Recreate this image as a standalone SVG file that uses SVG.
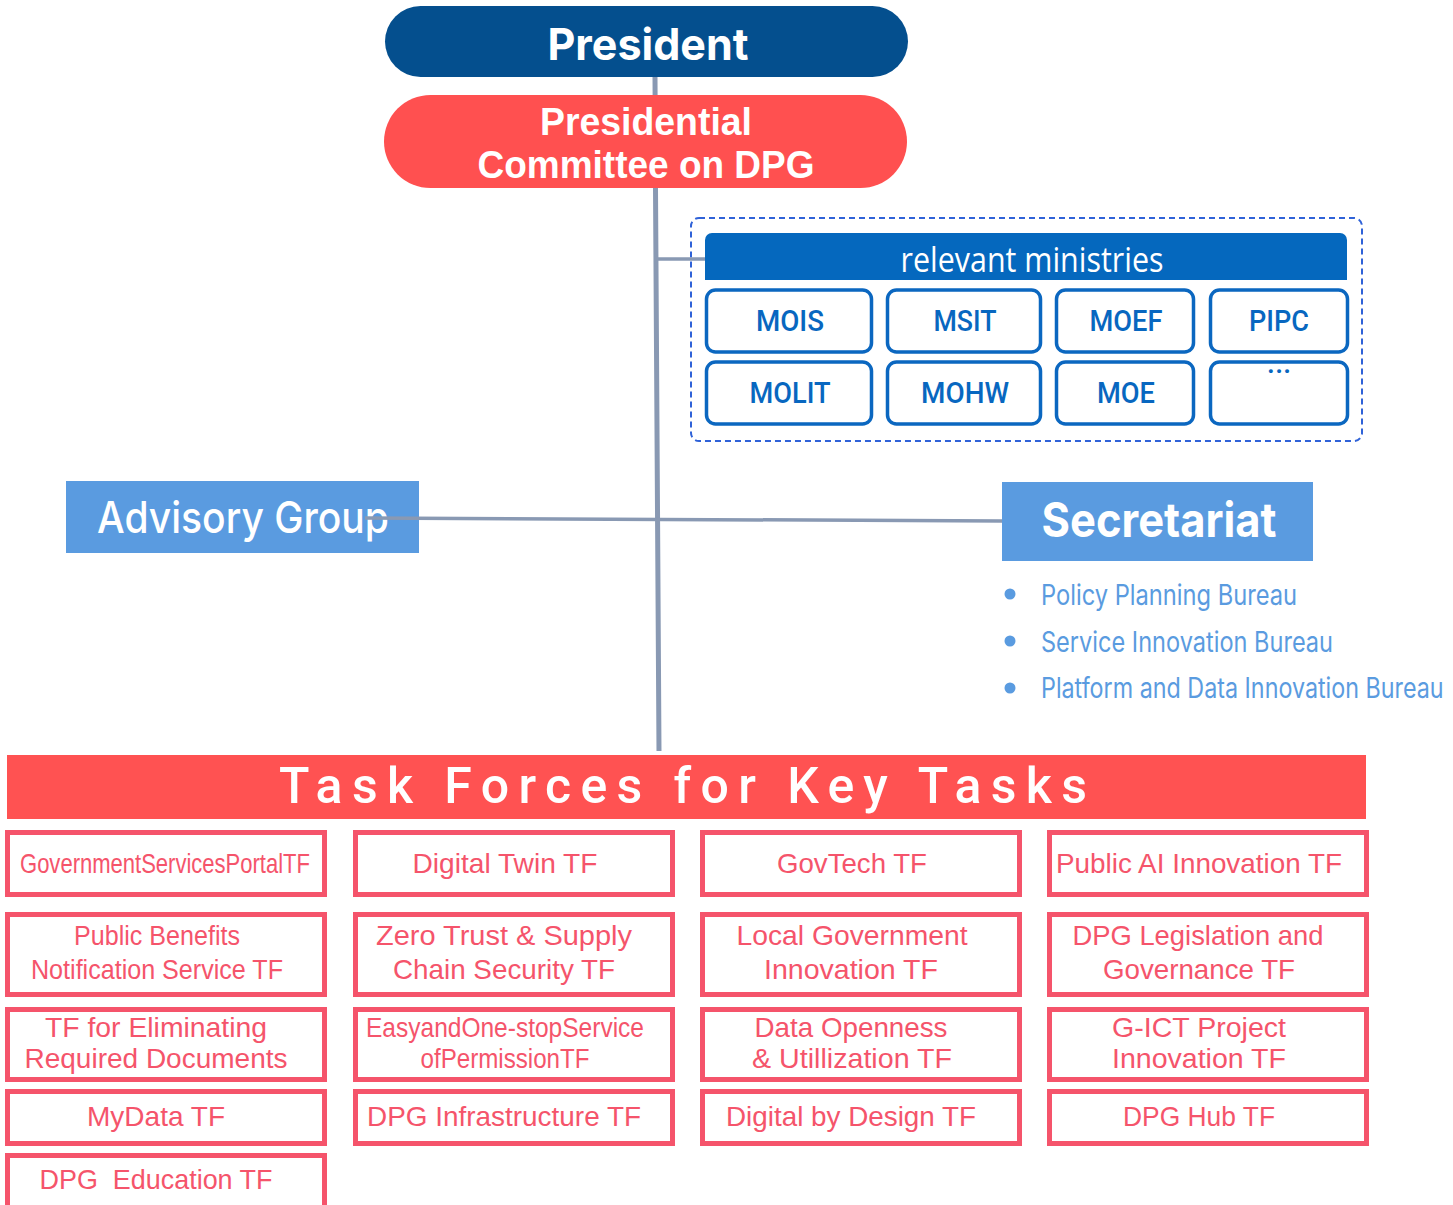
<svg xmlns="http://www.w3.org/2000/svg" width="1453" height="1205" viewBox="0 0 1453 1205">
<style>
.conn{stroke:#8999B3;fill:none;stroke-linecap:butt}
.wt{fill:#fff;text-anchor:middle}
.bold{font-family:Inter,"Noto Sans",sans-serif;font-weight:700}
.cm{font-family:"Liberation Sans",Arial,sans-serif;font-weight:700;font-size:38.5px}
.min rect{fill:#fff;stroke:#0B67C0;stroke-width:3.5}
.min text{fill:#0867C0;font-family:Roboto,"Noto Sans",sans-serif;font-weight:500;font-size:29px;text-anchor:middle}
.tf rect{fill:#fff;stroke:#F5546B;stroke-width:5}
.tf text{fill:#F5546B;font-family:"Liberation Sans","Noto Sans CJK KR",sans-serif;font-size:27.5px;text-anchor:middle}
.bul text{fill:#5A9BE0;font-family:Inter,"Noto Sans",sans-serif;font-size:28px}
.bul circle{fill:#5A9BE0}
</style>
<rect width="1453" height="1205" fill="#fff"/>
<g id="president">
<rect x="385" y="6" width="523" height="71" rx="35.5" fill="#044F8E"/>
<text class="wt bold" x="648" y="60" font-size="44" textLength="201" lengthAdjust="spacingAndGlyphs">President</text>
</g>
<g id="committee">
<rect x="384" y="95" width="523" height="93" rx="46.5" fill="#FF5050"/>
<text class="wt cm" x="646" y="135" textLength="212" lengthAdjust="spacingAndGlyphs">Presidential</text>
<text class="wt cm" x="646" y="178" textLength="337" lengthAdjust="spacingAndGlyphs">Committee on DPG</text>
</g>
<g id="relevant-ministries">
<rect x="691" y="218" width="671" height="223" rx="8" fill="none" stroke="#2F62D8" stroke-width="2" stroke-dasharray="6 4"/>
<path d="M705 240 a7 7 0 0 1 7 -7 H1340 a7 7 0 0 1 7 7 V280 H705 Z" fill="#0568BE"/>
<text class="wt" x="1032" y="272" font-family="'Open Sans','Noto Sans',sans-serif" font-size="34" textLength="263" lengthAdjust="spacingAndGlyphs">relevant ministries</text>
</g>
<g class="min">
<g id="m-mois"><rect x="706.5" y="290" width="165" height="62" rx="9"/><text x="790" y="331" textLength="68" lengthAdjust="spacingAndGlyphs">MOIS</text></g>
<g id="m-msit"><rect x="887.5" y="290" width="153" height="62" rx="9"/><text x="965" y="331" textLength="63" lengthAdjust="spacingAndGlyphs">MSIT</text></g>
<g id="m-moef"><rect x="1056.5" y="290" width="137" height="62" rx="9"/><text x="1126" y="331" textLength="73" lengthAdjust="spacingAndGlyphs">MOEF</text></g>
<g id="m-pipc"><rect x="1210.5" y="290" width="137" height="62" rx="9"/><text x="1279" y="331" textLength="60" lengthAdjust="spacingAndGlyphs">PIPC</text></g>
<g id="m-molit"><rect x="706.5" y="362" width="165" height="62" rx="9"/><text x="790" y="403" textLength="81" lengthAdjust="spacingAndGlyphs">MOLIT</text></g>
<g id="m-mohw"><rect x="887.5" y="362" width="153" height="62" rx="9"/><text x="965" y="403" textLength="88" lengthAdjust="spacingAndGlyphs">MOHW</text></g>
<g id="m-moe"><rect x="1056.5" y="362" width="137" height="62" rx="9"/><text x="1126" y="403" textLength="58" lengthAdjust="spacingAndGlyphs">MOE</text></g>
<g id="m-etc"><rect x="1210.5" y="362" width="137" height="62" rx="9"/><text x="1279" y="381" font-size="22">···</text></g>
</g>
<g id="advisory-group">
<rect x="66" y="481" width="353" height="72" fill="#5A9BE0"/>
<text class="wt" x="243" y="533" font-family="Inter,'Noto Sans',sans-serif" font-weight="500" font-size="44" textLength="292" lengthAdjust="spacingAndGlyphs">Advisory Group</text>
</g>
<g id="secretariat">
<rect x="1002" y="482" width="311" height="79" fill="#5A9BE0"/>
<text class="wt bold" x="1159" y="537" font-size="48" textLength="235" lengthAdjust="spacingAndGlyphs">Secretariat</text>
</g>
<g id="bureaus" class="bul">
<circle cx="1010" cy="594" r="5.5"/><text x="1041" y="605" textLength="256" lengthAdjust="spacingAndGlyphs">Policy Planning Bureau</text>
<circle cx="1010" cy="641" r="5.5"/><text x="1041" y="652" textLength="292" lengthAdjust="spacingAndGlyphs">Service Innovation Bureau</text>
<circle cx="1010" cy="688" r="5.5"/><text transform="translate(1041 698) scale(0.82 1)" x="0" y="0" textLength="491" lengthAdjust="spacingAndGlyphs">Platform and Data Innovation Bureau</text>
</g>
<g id="task-forces">
<rect x="7" y="755" width="1359" height="64" fill="#FF5252"/>
<text class="wt" x="683" y="803" font-family="Roboto,'Noto Sans',sans-serif" font-weight="500" font-size="50" textLength="808" lengthAdjust="spacing">Task Forces for Key Tasks</text>
</g>
<g class="tf">
<g id="tf1"><rect x="7.5" y="832.5" width="317" height="62"/><text x="165" y="873" textLength="290" lengthAdjust="spacingAndGlyphs">GovernmentServicesPortalTF</text></g>
<g id="tf2"><rect x="355.5" y="832.5" width="317" height="62"/><text x="505" y="873" textLength="185" lengthAdjust="spacingAndGlyphs">Digital Twin TF</text></g>
<g id="tf3"><rect x="702.5" y="832.5" width="317" height="62"/><text x="852" y="873" textLength="150" lengthAdjust="spacingAndGlyphs">GovTech TF</text></g>
<g id="tf4"><rect x="1049.5" y="832.5" width="317" height="62"/><text x="1199" y="873" textLength="286" lengthAdjust="spacingAndGlyphs">Public AI Innovation TF</text></g>

<g id="tf5"><rect x="7.5" y="914.5" width="317" height="80"/><text x="157" y="945" textLength="166" lengthAdjust="spacingAndGlyphs">Public Benefits</text><text x="157" y="979" textLength="252" lengthAdjust="spacingAndGlyphs">Notification Service TF</text></g>
<g id="tf6"><rect x="355.5" y="914.5" width="317" height="80"/><text x="504" y="945" textLength="256" lengthAdjust="spacingAndGlyphs">Zero Trust &amp; Supply</text><text x="504" y="979" textLength="222" lengthAdjust="spacingAndGlyphs">Chain Security TF</text></g>
<g id="tf7"><rect x="702.5" y="914.5" width="317" height="80"/><text x="852" y="945" textLength="231" lengthAdjust="spacingAndGlyphs">Local Government</text><text x="851" y="979" textLength="174" lengthAdjust="spacingAndGlyphs">Innovation TF</text></g>
<g id="tf8"><rect x="1049.5" y="914.5" width="317" height="80"/><text x="1198" y="945" textLength="251" lengthAdjust="spacingAndGlyphs">DPG Legislation and</text><text x="1199" y="979" textLength="192" lengthAdjust="spacingAndGlyphs">Governance TF</text></g>

<g id="tf9"><rect x="7.5" y="1009.5" width="317" height="70"/><text x="156" y="1037" textLength="222" lengthAdjust="spacingAndGlyphs">TF for Eliminating</text><text x="156" y="1068" textLength="263" lengthAdjust="spacingAndGlyphs">Required Documents</text></g>
<g id="tf10"><rect x="355.5" y="1009.5" width="317" height="70"/><text x="505" y="1037" textLength="278" lengthAdjust="spacingAndGlyphs">EasyandOne-stopService</text><text x="505" y="1068" textLength="169" lengthAdjust="spacingAndGlyphs">ofPermissionTF</text></g>
<g id="tf11"><rect x="702.5" y="1009.5" width="317" height="70"/><text x="851" y="1037" textLength="193" lengthAdjust="spacingAndGlyphs">Data Openness</text><text x="852" y="1068" textLength="200" lengthAdjust="spacingAndGlyphs">&amp; Utillization TF</text></g>
<g id="tf12"><rect x="1049.5" y="1009.5" width="317" height="70"/><text x="1199" y="1037" textLength="174" lengthAdjust="spacingAndGlyphs">G-ICT Project</text><text x="1199" y="1068" textLength="174" lengthAdjust="spacingAndGlyphs">Innovation TF</text></g>

<g id="tf13"><rect x="7.5" y="1091.5" width="317" height="52"/><text x="156" y="1126" textLength="138" lengthAdjust="spacingAndGlyphs">MyData TF</text></g>
<g id="tf14"><rect x="355.5" y="1091.5" width="317" height="52"/><text x="504" y="1126" textLength="274" lengthAdjust="spacingAndGlyphs">DPG Infrastructure TF</text></g>
<g id="tf15"><rect x="702.5" y="1091.5" width="317" height="52"/><text x="851" y="1126" textLength="250" lengthAdjust="spacingAndGlyphs">Digital by Design TF</text></g>
<g id="tf16"><rect x="1049.5" y="1091.5" width="317" height="52"/><text x="1199" y="1126" textLength="152" lengthAdjust="spacingAndGlyphs">DPG Hub TF</text></g>

<g id="tf17"><rect x="7.5" y="1155.5" width="317" height="70"/><text x="156" y="1189" xml:space="preserve" textLength="233" lengthAdjust="spacingAndGlyphs">DPG  Education TF</text></g>
</g>
<g id="connectors">
<path class="conn" d="M655 77 L655.1 95 M655.5 188 L659 751" stroke-width="5"/>
<line class="conn" x1="658" y1="259" x2="705" y2="259" stroke-width="3.5"/>
<line class="conn" x1="365" y1="518" x2="1002" y2="521" stroke-width="3.5"/>
</g>
</svg>
